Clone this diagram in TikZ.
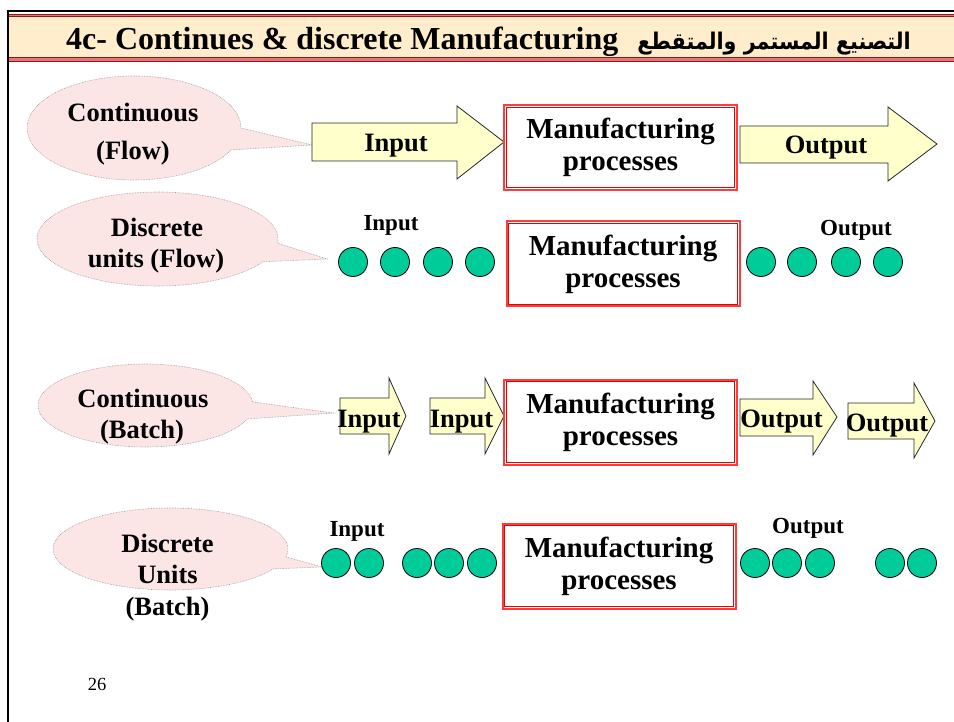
\documentclass[tikz,border=0pt]{standalone}
\usepackage{graphicx}
\usepackage{fontspec}
\setmainfont{Liberation Serif}
\newfontfamily\arabicfont[Script=Arabic]{DejaVu Sans}
\TeXXeTstate=1
\definecolor{bandfill}{RGB}{255,237,204}
\definecolor{bandline}{RGB}{150,20,20}
\definecolor{bandpink}{RGB}{222,120,120}
\definecolor{calloutfill}{RGB}{252,229,229}
\definecolor{calloutline}{RGB}{150,150,150}
\definecolor{arrowfill}{RGB}{255,255,204}
\definecolor{unitfill}{RGB}{0,204,153}
\definecolor{boxouter}{RGB}{255,60,60}
\definecolor{boxinner}{RGB}{235,0,0}
\tikzset{
 callout/.style={fill=calloutfill, draw=calloutline, densely dotted, line width=0.6pt},
 blockarrow/.style={fill=arrowfill, draw=black!85, line width=0.8pt, line join=miter},
 unit/.style={circle, fill=unitfill, draw=black, line width=0.8pt, minimum size=29pt, inner sep=0pt},
 procbox/.style={draw=boxouter, line width=2pt, minimum width=233pt, minimum height=85pt, inner sep=0pt, align=center, font=\fontsize{29}{32}\selectfont\bfseries},
 innerline/.style={draw=boxinner, line width=0.8pt},
 bubbletext/.style={font=\fontsize{26.5}{32}\selectfont\bfseries, inner sep=0pt, anchor=base},
 arrowtext/.style={font=\fontsize{26.5}{32}\selectfont\bfseries, inner sep=0pt, anchor=base},
 smalllabel/.style={font=\fontsize{23}{28}\selectfont\bfseries, inner sep=0pt, anchor=base},
}
\begin{document}
\begin{tikzpicture}[x=1pt,y=-1pt]
\useasboundingbox (0,0) rectangle (954,722);
% frame
\draw[line width=2pt] (7.7,10) -- (7.7,722);
\draw[line width=1.7pt] (6.7,10.8) -- (954,10.8);
% title band
\fill[bandfill] (8.7,17) rectangle (954,57.5);
\fill[bandpink] (8.7,13.6) rectangle (954,17.2);
\draw[bandline, line width=0.9pt] (8.7,14.1) -- (954,14.1);
\draw[bandline, line width=0.9pt] (8.7,16.8) -- (954,16.8);
\fill[bandpink] (8.7,57.3) rectangle (954,62);
\draw[bandline, line width=0.9pt] (8.7,57.7) -- (954,57.7);
\draw[bandline, line width=1.2pt] (8.7,61.5) -- (954,61.5);
\node[font=\fontsize{32}{38}\selectfont\bfseries, inner sep=0pt, anchor=base west] (titleL) at (66,50) {4c- Continues \& discrete Manufacturing};
\node[font=\fontsize{23}{30}\selectfont\bfseries\arabicfont, inner sep=0pt, anchor=base east] (titleR) at (911,50) {\scalebox{0.9}[1]{\beginR التصنيع المستمر والمتقطع\endR}};

% ---------- Row 1 : Continuous (Flow)
\draw[callout] ([shift={(134,128)}]25:107 and 52) arc[start angle=25, end angle=360, x radius=107, y radius=52] -- (312,145) -- cycle;
\node[bubbletext] (c1a) at (133,122) {Continuous};
\node[bubbletext] (c1b) at (133,160) {(Flow)};
\draw[blockarrow] (312,123) -- (457,123) -- (457,106) -- (504,142) -- (457,179) -- (457,161) -- (312,161) -- cycle;
\node[arrowtext] (in1) at (396,152) {Input};
\node[procbox] (p1) at (620.5,147.5) {Manufacturing\\processes};
\draw[innerline] ([shift={(3.2,3.2)}]p1.north west) rectangle ([shift={(-3.2,-3.2)}]p1.south east);
\draw[blockarrow] (740,126) -- (888,126) -- (888,107) -- (937,144) -- (888,181) -- (888,163) -- (740,163) -- cycle;
\node[arrowtext] (out1) at (826,154) {Output};

% ---------- Row 2 : Discrete units (Flow)
\draw[callout] ([shift={(157.5,239)}]29:120.5 and 47) arc[start angle=29, end angle=365, x radius=120.5, y radius=47] -- (327,259) -- cycle;
\node[bubbletext] (c2a) at (157,237) {Discrete};
\node[bubbletext] (c2b) at (156,268) {units (Flow)};
\node[smalllabel] (lin2) at (391,231) {Input};
\node[unit] (u21) at (353,262) {};
\node[unit] (u22) at (395,262) {};
\node[unit] (u23) at (438,262) {};
\node[unit] (u24) at (480,262) {};
\node[procbox] (p2) at (623,264) {Manufacturing\\processes};
\draw[innerline] ([shift={(3.2,3.2)}]p2.north west) rectangle ([shift={(-3.2,-3.2)}]p2.south east);
\node[smalllabel] (lout2) at (856,236) {Output};
\node[unit] (v21) at (761,262) {};
\node[unit] (v22) at (802,262) {};
\node[unit] (v23) at (846,262) {};
\node[unit] (v24) at (888,262) {};

% ---------- Row 3 : Continuous (Batch)
\draw[callout] ([shift={(145.5,405.5)}]19:107.5 and 41.5) arc[start angle=19, end angle=355, x radius=107.5, y radius=41.5] -- (333,413) -- cycle;
\node[bubbletext] (c3a) at (143,407) {Continuous};
\node[bubbletext] (c3b) at (142,438) {(Batch)};
\draw[blockarrow] (340,398) -- (389,398) -- (389,378) -- (406,416) -- (389,454) -- (389,434) -- (340,434) -- cycle;
\node[arrowtext] (in3a) at (369,427) {Input};
\draw[blockarrow] (430,398) -- (485,398) -- (485,378) -- (504,416) -- (485,454) -- (485,434) -- (430,434) -- cycle;
\node[arrowtext] (in3b) at (461.5,427) {Input};
\node[procbox] (p3) at (620.5,422) {Manufacturing\\processes};
\draw[innerline] ([shift={(3.2,3.2)}]p3.north west) rectangle ([shift={(-3.2,-3.2)}]p3.south east);
\draw[blockarrow] (740,399) -- (813,399) -- (813,381) -- (837,417) -- (813,455) -- (813,436) -- (740,436) -- cycle;
\node[arrowtext] (out3a) at (781.5,427) {Output};
\draw[blockarrow] (848,403) -- (914,403) -- (914,383) -- (935,421) -- (914,458) -- (914,439) -- (848,439) -- cycle;
\node[arrowtext] (out3b) at (887,431) {Output};

% ---------- Row 4 : Discrete Units (Batch)
\draw[callout] ([shift={(170.5,549)}]29:117.5 and 41) arc[start angle=29, end angle=371, x radius=117.5, y radius=41] -- (322,567) -- cycle;
\node[bubbletext] (c4a) at (167.5,552) {Discrete};
\node[bubbletext] (c4b) at (167.5,583) {Units};
\node[bubbletext] (c4c) at (167.5,615) {(Batch)};
\node[smalllabel] (lin4) at (357,536) {Input};
\node[unit] (u41) at (336,563) {};
\node[unit] (u42) at (369,563) {};
\node[unit] (u43) at (417,563) {};
\node[unit] (u44) at (449,563) {};
\node[unit] (u45) at (482,563) {};
\node[procbox] (p4) at (619,566) {Manufacturing\\processes};
\draw[innerline] ([shift={(3.2,3.2)}]p4.north west) rectangle ([shift={(-3.2,-3.2)}]p4.south east);
\node[smalllabel] (lout4) at (808,533) {Output};
\node[unit] (v41) at (755,563) {};
\node[unit] (v42) at (787,563) {};
\node[unit] (v43) at (820,563) {};
\node[unit] (v44) at (890,563) {};
\node[unit] (v45) at (922,563) {};

% page number
\node[font=\fontsize{18.5}{22}\selectfont, inner sep=0pt, anchor=base] (pagenum) at (97,690) {26};
\end{tikzpicture}
\end{document}
